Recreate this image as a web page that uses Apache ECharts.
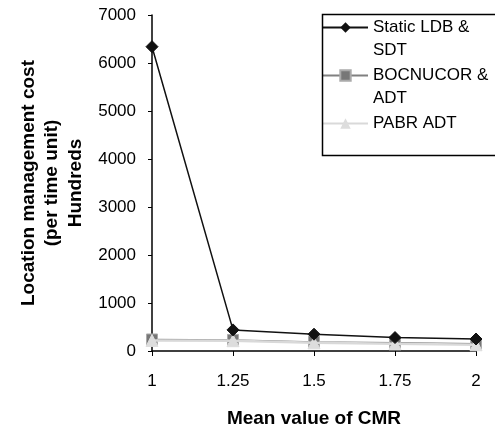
<!DOCTYPE html>
<html>
<head>
<meta charset="utf-8">
<script src="https://cdn.jsdelivr.net/npm/echarts@6/dist/echarts.min.js"></script>
<style>
    html, body { margin: 0; padding: 0; background: #fff; }
    #chart { width: 495px; height: 426px; }
</style>
</head>
<body>
<div id="chart"></div>
<script>
/*数据*/
var cmrValues = ['1', '1.25', '1.5', '1.75', '2'];
var yTicks = [0, 1000, 2000, 3000, 4000, 5000, 6000, 7000];
var staticLdb = [6340, 440, 350, 280, 250];
var bocnucor = [240, 230, 190, 170, 150];
var pabr = [220, 215, 170, 150, 130];

var seriesNames = ['Static LDB & SDT', 'BOCNUCOR & ADT', 'PABR ADT'];
/*图例文字：首行留空，让图标对齐第一行*/
var legendLabels = ['\nStatic LDB &\nSDT', '\nBOCNUCOR &\nADT', '\nPABR ADT\n'];

var box = document.getElementById('chart');
var myChart = echarts.init(box);

var font = 'Liberation Sans, Arial, sans-serif';

var options = {
    animation: false,
    backgroundColor: '#fff',
    textStyle: { fontFamily: font },
    grid: { left: 152, right: 19, top: 15, bottom: 75, containLabel: false, outerBoundsMode: 'none' },
    graphic: [
        {
            type: 'rect',
            left: 320,
            top: 12,
            shape: { width: 200, height: 141 },
            style: { fill: 'none', stroke: '#000', lineWidth: 1.5 },
            z: 10
        }
    ],
    legend: {
        orient: 'vertical',
        left: 322,
        top: -7,
        padding: 0,
        itemWidth: 45,
        itemHeight: 13,
        itemGap: -21,
        textStyle: { fontSize: 17, color: '#000', fontFamily: font, lineHeight: 23 },
        formatter: function (name) {
            return legendLabels[seriesNames.indexOf(name)];
        },
        data: seriesNames
    },
    xAxis: {
        type: 'category',
        boundaryGap: false,
        data: cmrValues,
        name: 'Mean value of CMR',
        nameLocation: 'middle',
        nameGap: 58,
        nameTextStyle: { fontSize: 19, fontWeight: 'bold', color: '#000', fontFamily: font },
        axisLine: { lineStyle: { color: '#000', width: 1.5 } },
        axisTick: { show: true, length: 5, alignWithLabel: true, lineStyle: { color: '#000' } },
        axisLabel: { fontSize: 17, color: '#000', margin: 22, fontFamily: font },
        splitLine: { show: false }
    },
    yAxis: {
        type: 'value',
        min: yTicks[0],
        max: yTicks[yTicks.length - 1],
        interval: 1000,
        name: 'Location management cost\n(per time unit)\nHundreds',
        nameLocation: 'middle',
        nameGap: 64,
        nameTextStyle: { fontSize: 19, fontWeight: 'bold', color: '#000', lineHeight: 23.5, fontFamily: font },
        axisLine: { show: true, lineStyle: { color: '#000', width: 1.5 } },
        axisTick: { show: true, length: 4, lineStyle: { color: '#000' } },
        axisLabel: {
            fontSize: 17, color: '#000', margin: 16, fontFamily: font,
            formatter: function (v) { return String(v); }
        },
        splitLine: { show: false }
    },
    series: [
        {
            name: seriesNames[0],
            type: 'line',
            data: staticLdb,
            symbol: 'diamond',
            symbolSize: 12,
            z: 4,
            lineStyle: { color: '#111', width: 1.5 },
            itemStyle: { color: '#111', borderColor: '#111' }
        },
        {
            name: seriesNames[1],
            type: 'line',
            data: bocnucor,
            symbol: 'rect',
            symbolSize: 11,
            z: 2,
            lineStyle: { color: '#808080', width: 1.5 },
            itemStyle: { color: '#777777', borderColor: '#aaaaaa', borderWidth: 1 }
        },
        {
            name: seriesNames[2],
            type: 'line',
            data: pabr,
            symbol: 'triangle',
            symbolSize: 12,
            z: 3,
            lineStyle: { color: '#d9d9d9', width: 2.5 },
            itemStyle: { color: '#dddddd', borderColor: '#dddddd' }
        }
    ]
};
myChart.setOption(options);
</script>
</body>
</html>
